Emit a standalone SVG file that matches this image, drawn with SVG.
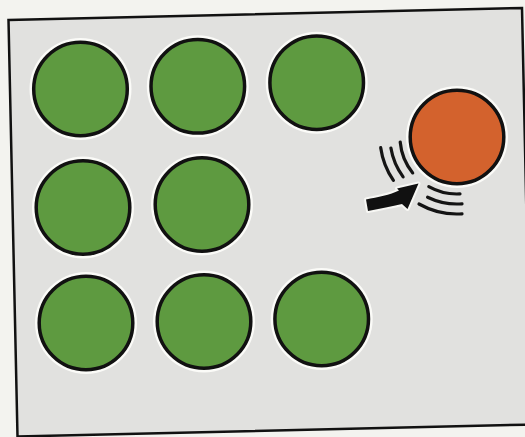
<svg xmlns="http://www.w3.org/2000/svg" width="525" height="437" viewBox="0 0 525 437">
  <style>
    .halo { fill: #fbfbf8; }
    .green { fill: #5e9a40; stroke: #111; stroke-width: 3.5; }
    .orange { fill: #d3622d; stroke: #111; stroke-width: 3.5; }
    .motion { fill: none; stroke: #141414; stroke-width: 3.2; stroke-linecap: round; }
  </style>
  <defs>
    <path id="arrowShape" d="M366,199.5 C378,197 390,195 399,190.5 L397,188.5 L418.5,183.5 L407.5,209 L402,204 C392,206.5 380,208.5 368,211 Z"/>
  </defs>
  <rect x="0" y="0" width="525" height="437" fill="#f3f3ef"/>
  <g id="frame">
    <polygon points="8.5,20 522,8 531,424.5 17.5,436.5" fill="#e1e1df" stroke="#111" stroke-width="2.5"/>
  </g>

  <g id="g1"><circle class="halo" cx="80.5" cy="89" r="51"/><circle class="green" cx="80.5" cy="89" r="46.8"/></g>
  <g id="g2"><circle class="halo" cx="197.8" cy="86.3" r="51"/><circle class="green" cx="197.8" cy="86.3" r="46.8"/></g>
  <g id="g3"><circle class="halo" cx="316.7" cy="82.7" r="51"/><circle class="green" cx="316.7" cy="82.7" r="46.8"/></g>
  <g id="g4"><circle class="halo" cx="83" cy="207.5" r="51"/><circle class="green" cx="83" cy="207.5" r="46.8"/></g>
  <g id="g5"><circle class="halo" cx="202" cy="204.5" r="51"/><circle class="green" cx="202" cy="204.5" r="46.8"/></g>
  <g id="g6"><circle class="halo" cx="86" cy="323" r="51"/><circle class="green" cx="86" cy="323" r="46.8"/></g>
  <g id="g7"><circle class="halo" cx="204" cy="321.5" r="51"/><circle class="green" cx="204" cy="321.5" r="46.8"/></g>
  <g id="g8"><circle class="halo" cx="321.7" cy="319" r="51"/><circle class="green" cx="321.7" cy="319" r="46.8"/></g>

  <g id="ball"><circle class="halo" cx="457" cy="137" r="51"/><circle class="orange" cx="457" cy="137" r="46.8"/></g>

  <g id="motion-lines">
    <path class="motion" d="M400.2,142 A57,57 0 0 0 412.7,172.9"/>
    <path class="motion" d="M390.9,148.1 A67,67 0 0 0 403.1,176.9"/>
    <path class="motion" d="M380.7,147.7 A77,77 0 0 0 393.4,180.4"/>
    <path class="motion" d="M428.8,186.6 A57,57 0 0 0 460,193.9"/>
    <path class="motion" d="M427.6,197.2 A67,67 0 0 0 462,203.8"/>
    <path class="motion" d="M419,204 A77,77 0 0 0 462,213.8"/>
  </g>

  <g id="connectors">
    <use href="#arrowShape" fill="none" stroke="#f7f7f4" stroke-width="4" stroke-linejoin="round"/>
    <use href="#arrowShape" fill="#111"/>
  </g>
</svg>
